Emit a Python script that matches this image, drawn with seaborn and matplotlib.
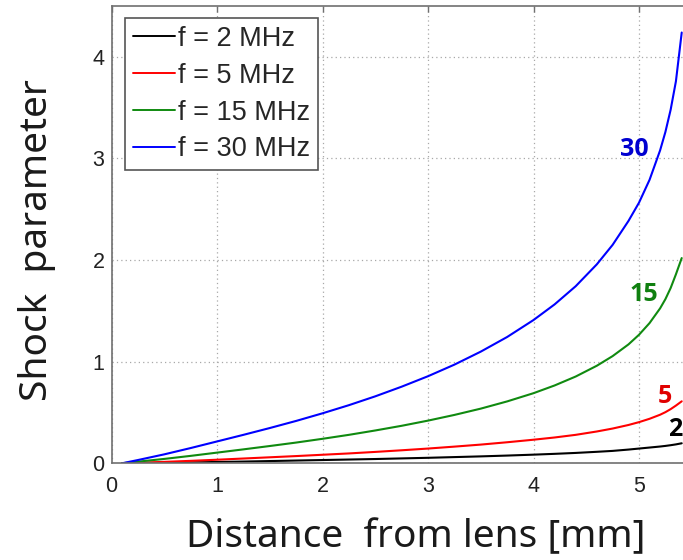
import matplotlib
matplotlib.use("Agg")
import matplotlib.pyplot as plt
import seaborn as sns
import pandas as pd

# Distance from the lens [mm] at which the shock parameter was evaluated
distance_mm = [0.1, 0.25, 0.5, 0.75, 1.0, 1.25, 1.5, 1.75, 2.0, 2.25, 2.5,
               2.75, 3.0, 3.25, 3.5, 3.75, 4.0, 4.2, 4.4, 4.6, 4.75, 4.9,
               5.0, 5.1, 5.2, 5.25, 5.3, 5.35, 5.405]

# Shock parameter for each driving frequency
shock_2mhz = [0.0, 0.002, 0.005, 0.009, 0.013, 0.017, 0.022, 0.027, 0.032,
              0.037, 0.042, 0.048, 0.054, 0.061, 0.068, 0.076, 0.085, 0.093,
              0.102, 0.113, 0.122, 0.135, 0.145, 0.155, 0.165, 0.171, 0.178,
              0.186, 0.197]
shock_5mhz = [0.0, 0.005, 0.014, 0.024, 0.035, 0.047, 0.059, 0.071, 0.084,
              0.097, 0.112, 0.128, 0.145, 0.164, 0.184, 0.207, 0.232, 0.254,
              0.280, 0.313, 0.342, 0.377, 0.405, 0.438, 0.478, 0.503, 0.533,
              0.568, 0.610]
shock_15mhz = [0.0, 0.016, 0.043, 0.073, 0.105, 0.137, 0.170, 0.204, 0.241,
               0.280, 0.323, 0.369, 0.420, 0.476, 0.538, 0.609, 0.690, 0.766,
               0.854, 0.960, 1.055, 1.170, 1.265, 1.380, 1.525, 1.615, 1.725,
               1.860, 2.020]
shock_30mhz = [0.0, 0.032, 0.088, 0.150, 0.215, 0.280, 0.347, 0.417, 0.492,
               0.572, 0.659, 0.754, 0.857, 0.971, 1.099, 1.243, 1.410, 1.564,
               1.743, 1.958, 2.150, 2.385, 2.565, 2.790, 3.080, 3.260, 3.480,
               3.760, 4.240]

series_labels = ["f = 2 MHz", "f = 5 MHz", "f = 15 MHz", "f = 30 MHz"]
curve_tags = ["2", "5", "15", "30"]
x_ticks = [0, 1, 2, 3, 4, 5]
y_ticks = [0, 1, 2, 3, 4]

colors = {"f = 2 MHz": "#000000", "f = 5 MHz": "#ff0000",
          "f = 15 MHz": "#108a10", "f = 30 MHz": "#0000ff"}
tag_colors = ["#000000", "#e00000", "#108010", "#0000d0"]
tag_pos = [(5.34, 0.33), (5.25, 0.66), (5.05, 1.66), (4.96, 3.09)]

frames = []
for label, values in zip(series_labels,
                         [shock_2mhz, shock_5mhz, shock_15mhz, shock_30mhz]):
    frames.append(pd.DataFrame({"distance": distance_mm,
                                "shock": values,
                                "series": label}))
df = pd.concat(frames, ignore_index=True)

sns.set_style("white")
plt.rcParams["font.family"] = ["Liberation Sans", "DejaVu Sans"]

fig = plt.figure(figsize=(6.83, 5.6), dpi=100)
ax = fig.add_axes([0.1633, 0.1727, 0.8495, 0.8164])

sns.lineplot(data=df, x="distance", y="shock", hue="series",
             hue_order=series_labels, palette=colors, linewidth=1.5,
             ax=ax, legend=True)

ax.set_xlim(0, 5.5)
ax.set_ylim(0, 4.5)
ax.set_xticks(x_ticks)
ax.set_yticks(y_ticks)
ax.set_xticklabels([str(t) for t in x_ticks])
ax.set_yticklabels([str(t) for t in y_ticks])

ax.grid(True, color="#a8a8a8", linestyle=(0, (1, 2.5)), linewidth=0.9)
ax.set_axisbelow(True)
for side in ax.spines.values():
    side.set_color("#707070")
    side.set_linewidth(1.2)
ax.tick_params(direction="in", top=True, right=True, length=4,
               width=1.0, color="#707070", labelsize=15.5,
               labelcolor="#222222")
ax.tick_params(axis="x", pad=9)
ax.tick_params(axis="y", pad=5)

ax.set_xlabel("")
ax.set_ylabel("")
label_font = dict(family=["Noto Sans", "DejaVu Sans"], size=28,
                  color="#1a1a1a")
fig.text(0.6083, 0.041, "Distance  from lens [mm]", ha="center",
         va="center", **label_font)
fig.text(0.054, 0.571, "Shock  parameter", ha="center", va="center",
         rotation=90, **label_font)

for tag, (tx, ty), tc in zip(curve_tags, tag_pos, tag_colors):
    ax.text(tx, ty, tag, color=tc, fontsize=18, fontweight="bold",
            family=["Open Sans", "DejaVu Sans"], ha="center", va="center")

leg = ax.legend(loc="upper left", bbox_to_anchor=(0.0233, 0.9746),
                borderaxespad=0, fontsize=19.5, frameon=True, fancybox=False,
                handlelength=1.55, handletextpad=0.1, labelspacing=0.4,
                borderpad=0.3, title=None)
leg.get_frame().set_edgecolor("#555555")
leg.get_frame().set_linewidth(1.2)
leg.get_frame().set_alpha(1.0)
for line in leg.get_lines():
    line.set_linewidth(1.4)

fig.savefig("out.png", dpi=100)
